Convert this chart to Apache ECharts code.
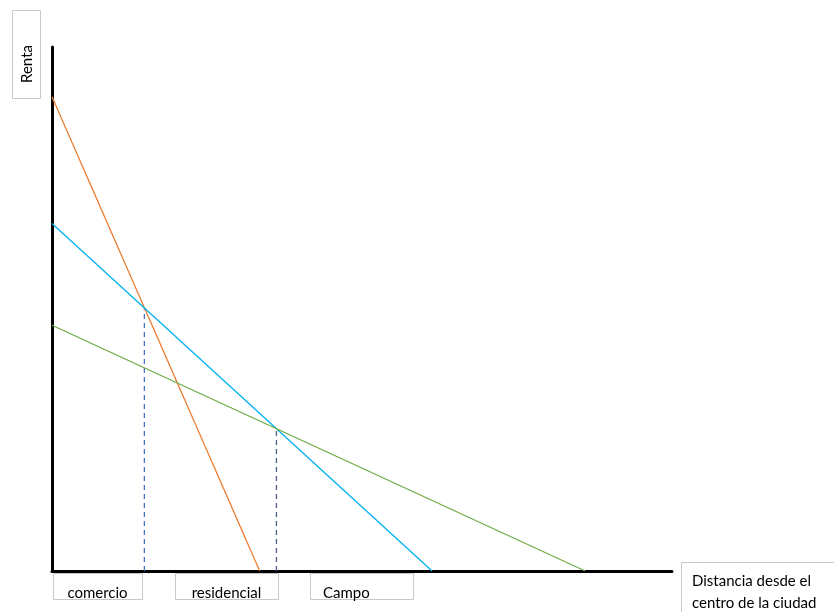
<!DOCTYPE html>
<html><head><meta charset="utf-8">
<script src="https://cdn.jsdelivr.net/npm/echarts@6/dist/echarts.min.js"></script>
<style>html,body{margin:0;padding:0;background:#fff}#c{width:834px;height:612px}</style>
</head><body><div id="c"></div>
<script>
// Data (abstract units 0..100)
const comercio = [[0, 90.5], [33.5, 0]];
const residencial = [[0, 66.3], [61.3, 0]];
const campo = [[0, 46.9], [86, 0]];
const limite1 = [[14.9, 0], [14.9, 50.1]];
const limite2 = [[36.2, 0], [36.2, 27.2]];
const zoneLabels = ['comercio', 'residencial', 'Campo'];
const yLabel = 'Renta';
const xLabel = ['Distancia desde el', 'centro de la ciudad'];

const font = 'Lato, "Open Sans", sans-serif';
const chart = echarts.init(document.getElementById('c'));
const box = (x, y, w, h) => ({type: 'rect', shape: {x, y, width: w, height: h}, style: {fill: '#fff', stroke: '#c8c8c8', lineWidth: 1}, z: 10});
const txt = (x, y, t, align) => ({type: 'text', x, y, style: {text: t, font: '15px ' + font, fill: '#000', textAlign: align || 'left', textVerticalAlign: 'middle'}, z: 11});
// [boxX, boxY, boxW, textX, align]
const boxes = [[53, 573, 89, 97.5, 'center'], [175, 573, 103, 226.5, 'center'], [310, 573, 103, 323, 'left']];
const graphics = [];
boxes.forEach((b, i) => {
  graphics.push(box(b[0] + 0.5, b[1] + 0.5, b[2], 26));
  graphics.push(txt(b[3], 593, zoneLabels[i], b[4]));
});
graphics.push(box(12.5, 10.5, 28, 88));
graphics.push({type: 'text', x: 27, y: 64, rotation: Math.PI / 2, style: {text: yLabel, font: '15px ' + font, fill: '#000', textAlign: 'center', textVerticalAlign: 'middle'}, z: 11});
graphics.push(box(681.5, 562.5, 160, 60));
graphics.push(txt(692, 581, xLabel[0]));
graphics.push(txt(692, 603, xLabel[1]));

const lineS = (data, color, extra) => Object.assign({type: 'line', data, symbol: 'none', lineStyle: {color, width: 1.3}, silent: true, animation: false}, extra || {});
chart.setOption({
  animation: false,
  grid: {left: 52, top: 47, width: 620, height: 524},
  xAxis: {type: 'value', min: 0, max: 100, axisLine: {show: true, onZero: false, lineStyle: {color: '#000', width: 3}}, axisTick: {show: false}, axisLabel: {show: false}, splitLine: {show: false}},
  yAxis: {type: 'value', min: 0, max: 100, axisLine: {show: true, onZero: false, lineStyle: {color: '#000', width: 3}}, axisTick: {show: false}, axisLabel: {show: false}, splitLine: {show: false}},
  series: [
    lineS(limite1, '#4472C4', {lineStyle: {color: '#4472C4', width: 1.3, type: [5, 4]}}),
    lineS(limite2, '#4F5F80', {lineStyle: {color: '#4F5F80', width: 1.3, type: [5, 4]}}),
    lineS(comercio, '#ED7D31'),
    lineS(residencial, '#00B0F0'),
    lineS(campo, '#70AD47')
  ],
  graphic: graphics
});
</script></body></html>
